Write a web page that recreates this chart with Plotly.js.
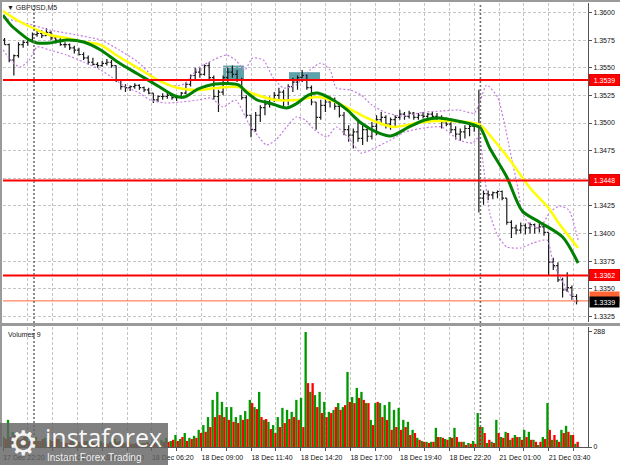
<!DOCTYPE html>
<html>
<head>
<meta charset="utf-8">
<script src="https://cdn.plot.ly/plotly-3.0.1.min.js"></script>
<style>
html,body{margin:0;padding:0;background:#ffffff;overflow:hidden;}
#chart{width:620px;height:465px;}
</style>
</head>
<body>
<div id="chart"></div>
<script>
// ================= DATA =================
const chartTitle = '\u25BC GBPUSD,M5';
const volumeTitle = 'Volumes 9';
const timeLabels = ['17 Dec 22:20','18 Dec 01:00','18 Dec 03:40','18 Dec 06:20','18 Dec 09:00','18 Dec 11:40',
  '18 Dec 14:20','18 Dec 17:00','18 Dec 19:40','18 Dec 22:20','21 Dec 01:00','21 Dec 03:40'];

// price bars, one per 15 minutes (3 x M5), starting 17 Dec 22:20
const open = [1.3575,1.3571,1.3557,1.3561,1.3571,1.3573,1.3575,1.3580,1.3581,1.3579,
1.3582,1.3577,1.3575,1.3571,1.3571,1.3568,1.3566,1.3562,1.3559,1.3555,
1.3553,1.3552,1.3554,1.3555,1.3552,1.3539,1.3533,1.3532,1.3533,1.3534,
1.3532,1.3530,1.3527,1.3521,1.3524,1.3524,1.3525,1.3523,1.3524,1.3527,
1.3535,1.3543,1.3546,1.3544,1.3552,1.3541,1.3524,1.3528,1.3541,1.3546,
1.3544,1.3539,1.3523,1.3507,1.3494,1.3507,1.3514,1.3517,1.3522,1.3525,
1.3528,1.3521,1.3533,1.3537,1.3541,1.3543,1.3532,1.3519,1.3505,1.3516,
1.3519,1.3521,1.3515,1.3507,1.3494,1.3489,1.3492,1.3486,1.3494,1.3488,
1.3497,1.3503,1.3505,1.3499,1.3503,1.3505,1.3508,1.3506,1.3509,1.3505,
1.3507,1.3506,1.3508,1.3506,1.3505,1.3501,1.3499,1.3494,1.3490,1.3492,
1.3495,1.3497,1.3498,1.3432,1.3436,1.3435,1.3437,1.3438,1.3432,1.3410,
1.3405,1.3403,1.3407,1.3405,1.3408,1.3405,1.3406,1.3401,1.3374,1.3371,
1.3358,1.3349,1.3351,1.3343];
const high = [1.3577,1.3572,1.3562,1.3573,1.3575,1.3577,1.3582,1.3585,1.3584,1.3586,
1.3583,1.3579,1.3577,1.3573,1.3572,1.3570,1.3568,1.3564,1.3561,1.3559,
1.3555,1.3556,1.3558,1.3557,1.3552,1.3539,1.3535,1.3534,1.3536,1.3535,
1.3533,1.3532,1.3527,1.3525,1.3527,1.3528,1.3526,1.3525,1.3528,1.3537,
1.3544,1.3550,1.3550,1.3553,1.3555,1.3543,1.3530,1.3543,1.3550,1.3552,
1.3548,1.3541,1.3525,1.3507,1.3510,1.3516,1.3521,1.3524,1.3528,1.3532,
1.3530,1.3535,1.3541,1.3543,1.3548,1.3544,1.3534,1.3519,1.3521,1.3523,
1.3524,1.3523,1.3519,1.3510,1.3498,1.3495,1.3503,1.3498,1.3495,1.3501,
1.3507,1.3510,1.3507,1.3505,1.3507,1.3512,1.3510,1.3511,1.3510,1.3509,
1.3510,1.3509,1.3510,1.3509,1.3507,1.3505,1.3501,1.3497,1.3495,1.3498,
1.3499,1.3501,1.3530,1.3439,1.3439,1.3438,1.3439,1.3439,1.3432,1.3412,
1.3408,1.3410,1.3409,1.3410,1.3409,1.3409,1.3407,1.3401,1.3378,1.3374,
1.3360,1.3365,1.3353,1.3345];
const low = [1.3571,1.3555,1.3543,1.3559,1.3568,1.3570,1.3573,1.3578,1.3577,1.3579,
1.3575,1.3572,1.3570,1.3568,1.3566,1.3563,1.3561,1.3557,1.3553,1.3552,
1.3550,1.3551,1.3552,1.3550,1.3537,1.3530,1.3528,1.3529,1.3531,1.3530,
1.3528,1.3526,1.3518,1.3519,1.3521,1.3522,1.3521,1.3520,1.3522,1.3526,
1.3533,1.3539,1.3541,1.3543,1.3539,1.3521,1.3510,1.3525,1.3537,1.3541,
1.3537,1.3521,1.3505,1.3487,1.3492,1.3501,1.3507,1.3514,1.3519,1.3521,
1.3514,1.3516,1.3528,1.3530,1.3537,1.3530,1.3516,1.3494,1.3503,1.3510,
1.3514,1.3512,1.3505,1.3489,1.3483,1.3477,1.3483,1.3480,1.3483,1.3485,
1.3489,1.3498,1.3495,1.3494,1.3497,1.3503,1.3503,1.3504,1.3503,1.3503,
1.3504,1.3503,1.3504,1.3502,1.3495,1.3497,1.3491,1.3485,1.3484,1.3486,
1.3488,1.3492,1.3419,1.3426,1.3430,1.3431,1.3432,1.3430,1.3408,1.3396,
1.3399,1.3400,1.3399,1.3400,1.3400,1.3401,1.3398,1.3362,1.3367,1.3356,
1.3342,1.3347,1.3340,1.3336];
const close = [1.3571,1.3557,1.3561,1.3571,1.3573,1.3575,1.3580,1.3581,1.3579,1.3582,
1.3577,1.3575,1.3571,1.3571,1.3568,1.3566,1.3562,1.3559,1.3555,1.3553,
1.3552,1.3554,1.3555,1.3552,1.3539,1.3533,1.3532,1.3533,1.3534,1.3532,
1.3530,1.3527,1.3521,1.3524,1.3524,1.3525,1.3523,1.3524,1.3527,1.3535,
1.3543,1.3546,1.3544,1.3552,1.3541,1.3524,1.3528,1.3541,1.3546,1.3544,
1.3539,1.3523,1.3507,1.3494,1.3507,1.3514,1.3517,1.3522,1.3525,1.3528,
1.3521,1.3533,1.3537,1.3541,1.3543,1.3532,1.3519,1.3505,1.3516,1.3519,
1.3521,1.3515,1.3507,1.3494,1.3489,1.3492,1.3486,1.3494,1.3488,1.3497,
1.3503,1.3505,1.3499,1.3503,1.3505,1.3508,1.3506,1.3509,1.3505,1.3507,
1.3506,1.3508,1.3506,1.3505,1.3501,1.3499,1.3494,1.3490,1.3492,1.3495,
1.3497,1.3498,1.3432,1.3436,1.3435,1.3437,1.3438,1.3432,1.3410,1.3405,
1.3403,1.3407,1.3405,1.3408,1.3405,1.3406,1.3401,1.3374,1.3371,1.3358,
1.3349,1.3351,1.3343,1.3339];

// tick volumes per 15-minute slot: largest rising-volume bar and largest falling-volume bar
const volUp = [25,68,38,23,20,30,18,25,15,23, 18,13,20,15,10,18,13,10,15,13,
8,15,10,13,20,15,10,13,8,15, 10,13,13,10,18,23,15,30,20,35,
23,28,43,55,75,118,138,113,100,100, 75,80,90,118,100,138,68,63,55,75,
98,93,88,118,123,288,138,130,138,113, 88,93,110,100,188,125,148,138,110,68,
110,110,105,113,93,98,68,63,43,23, 15,13,13,48,25,20,25,48,13,13,
10,15,85,50,10,13,68,25,38,18, 30,25,43,38,18,5,25,110,18,18,
43,53,30,8];
const volDown = [20,25,30,18,25,15,20,15,20,13, 15,20,13,10,15,10,13,15,8,10,
13,10,8,15,13,10,13,8,10,8, 10,8,10,8,13,13,18,15,25,15,
20,23,35,38,50,75,80,75,68,63, 60,68,70,110,95,75,70,45,35,50,
60,70,75,68,50,160,160,100,85,75, 85,100,93,105,113,110,123,118,110,55,
113,75,68,43,50,43,50,30,35,18, 13,10,13,25,23,18,23,25,13,5,
8,8,50,35,18,10,35,23,35,23, 25,18,25,18,13,13,20,43,30,13,
35,38,30,13];

// moving averages and bands, sampled at M5 bar numbers (0 = 17 Dec 22:20)
const slowMaBar = [0,9,19,30,41,52,63,74,87,100,113,126,137,152,159,168,176,189,203,213,220,231,241,252,267,279,288,299,308,315,327,340,352,358,371];
const slowMa = [1.36013,1.35932,1.35860,1.35796,1.35769,1.35733,1.35706,1.35606,1.35498,1.35389,1.35317,1.35298,1.35317,1.35326,1.35280,1.35235,1.35208,1.35208,1.35235,1.35199,1.35154,1.35072,1.35009,1.34964,1.35000,1.35018,1.35018,1.35009,1.34982,1.34873,1.34665,1.34412,1.34231,1.34104,1.33869];
const fastMaBar = [0,5,11,17,22,30,41,52,63,74,87,100,111,117,126,137,152,157,164,172,183,189,197,203,213,222,231,241,250,262,272,281,290,304,308,314,325,335,346,361,371];
const fastMa = [1.35977,1.35887,1.35814,1.35751,1.35724,1.35724,1.35751,1.35733,1.35661,1.35552,1.35443,1.35335,1.35244,1.35235,1.35308,1.35353,1.35344,1.35280,1.35208,1.35181,1.35136,1.35172,1.35253,1.35271,1.35208,1.35118,1.35000,1.34918,1.34882,1.34964,1.35027,1.35045,1.35027,1.34982,1.34955,1.34774,1.34511,1.34203,1.34104,1.33968,1.33733];
const bandUpperBar = [0,11,19,30,48,63,75,87,98,108,117,126,133,144,150,156,161,168,174,181,189,198,205,211,215,224,231,238,246,257,272,283,294,304,308,312,319,323,327,332,335,340,346,353,359,365,371];
const bandUpper = [1.35950,1.35914,1.35887,1.35842,1.35796,1.35751,1.35661,1.35552,1.35407,1.35335,1.35353,1.35498,1.35552,1.35615,1.35570,1.35480,1.35588,1.35570,1.35416,1.35317,1.35344,1.35480,1.35543,1.35480,1.35317,1.35299,1.35253,1.35163,1.35099,1.35063,1.35099,1.35108,1.35118,1.35090,1.35208,1.35344,1.35235,1.35027,1.34755,1.34421,1.34185,1.34077,1.34050,1.34194,1.34249,1.34213,1.33941];
const bandLowerBar = [0,6,11,17,22,30,41,52,63,70,79,87,95,105,115,126,134,142,150,159,163,170,176,183,189,195,201,209,215,224,231,241,250,259,272,283,294,303,307,310,314,319,325,334,342,351,355,364,370];
const bandLower = [1.35661,1.35552,1.35507,1.35570,1.35688,1.35661,1.35615,1.35552,1.35480,1.35416,1.35326,1.35280,1.35208,1.35181,1.35190,1.35208,1.35226,1.35145,1.35208,1.34982,1.34909,1.34801,1.34846,1.34964,1.35054,1.35027,1.34937,1.34873,1.34964,1.34846,1.34728,1.34783,1.34846,1.34918,1.34955,1.34964,1.34846,1.34819,1.34873,1.34602,1.34185,1.33986,1.33878,1.33869,1.33914,1.33941,1.33733,1.33489,1.33353];

const levelPrices = [1.3539, 1.3448, 1.3362];
const bidPrice = 1.3339;
const askPrice = 1.3341;
const daySeparatorBars = [20, 308];
const zoneStartBar = [142, 184.5];
const zoneEndBar = [155.5, 204.5];
const zoneLow = [1.3539, 1.3539];
const zoneHigh = [1.3552, 1.3546];
const priceTicks = [1.3325,1.3350,1.3375,1.3400,1.3425,1.3450,1.3475,1.3500,1.3525,1.3550,1.3575,1.3600];
const volumeTicks = [0, 288];
const logoText = 'instaforex';
const logoSub = 'Instant Forex Trading';

// ================= RENDER =================
const W = 620, H = 465, ML = 3, MR = 32, MT = 3, MB = 18;
const PW = W - ML - MR, PH = H - MT - MB;
const pxX = px => (px - ML) / PW;
const pxY = py => (H - MB - py) / PH;
const FONT = 'Liberation Sans, Arial, sans-serif';

const slotBar = open.map((_, k) => 3 * k + 1);
const gridBars = [];
const gridText = [];
for (let i = 0; i < 24; i++) { gridBars.push(16 * i); gridText.push(i % 2 === 0 ? timeLabels[i / 2] : ''); }

const bandLine = { color: '#c47ee0', width: 1.2, dash: '2px,2px', shape: 'spline', smoothing: 0.6 };
const traces = [
  { type: 'scatter', mode: 'lines', x: bandUpperBar, y: bandUpper, xaxis: 'x', yaxis: 'y', line: bandLine, hoverinfo: 'skip' },
  { type: 'scatter', mode: 'lines', x: bandLowerBar, y: bandLower, xaxis: 'x', yaxis: 'y', line: bandLine, hoverinfo: 'skip' },
  { type: 'ohlc', x: slotBar, open: open, high: high, low: low, close: close, xaxis: 'x', yaxis: 'y',
    tickwidth: 0.4,
    increasing: { line: { color: '#1a1a1a', width: 1.2 } },
    decreasing: { line: { color: '#1a1a1a', width: 1.2 } }, hoverinfo: 'skip' },
  { type: 'scatter', mode: 'lines', x: slowMaBar, y: slowMa, xaxis: 'x', yaxis: 'y',
    line: { color: '#ffff00', width: 2.5, shape: 'spline', smoothing: 0.8 }, hoverinfo: 'skip' },
  { type: 'scatter', mode: 'lines', x: fastMaBar, y: fastMa, xaxis: 'x', yaxis: 'y',
    line: { color: '#008000', width: 3, shape: 'spline', smoothing: 0.8 }, hoverinfo: 'skip' },
  { type: 'bar', x: slotBar, y: volUp, xaxis: 'x', yaxis: 'y2', width: 1.5, offset: -1.5,
    marker: { color: '#009a00', line: { width: 0 } }, hoverinfo: 'skip' },
  { type: 'bar', x: slotBar, y: volDown, xaxis: 'x', yaxis: 'y2', width: 1.5, offset: 0,
    marker: { color: '#ff0000', line: { width: 0 } }, hoverinfo: 'skip' }
];

const shapes = [];
for (let i = 0; i < zoneStartBar.length; i++) {
  shapes.push({ type: 'rect', xref: 'x', yref: 'y', x0: zoneStartBar[i], x1: zoneEndBar[i], y0: zoneLow[i], y1: zoneHigh[i],
    fillcolor: 'rgba(52,140,148,0.8)', line: { width: 0 }, layer: 'below' });
}
levelPrices.forEach(p => shapes.push({ type: 'line', xref: 'paper', yref: 'y', x0: 0, x1: 1, y0: p, y1: p,
  line: { color: '#ff0000', width: 2 } }));
shapes.push({ type: 'line', xref: 'paper', yref: 'y', x0: 0, x1: 1, y0: bidPrice, y1: bidPrice,
  line: { color: '#ff6633', width: 1 } });
daySeparatorBars.forEach(b => shapes.push({ type: 'line', xref: 'x', yref: 'paper', x0: b, x1: b, y0: 0, y1: 1,
  line: { color: '#707070', width: 1.6, dash: '2px,2px' } }));
shapes.push({ type: 'line', xref: 'paper', yref: 'paper', x0: pxX(0), x1: pxX(620), y0: pxY(324.5), y1: pxY(324.5),
  line: { color: '#9a9a9a', width: 3 } });
shapes.push({ type: 'line', xref: 'paper', yref: 'paper', x0: pxX(0), x1: pxX(620), y0: pxY(1), y1: pxY(1),
  line: { color: '#9a9a9a', width: 2 } });
shapes.push({ type: 'line', xref: 'paper', yref: 'paper', x0: pxX(1), x1: pxX(1), y0: pxY(0), y1: pxY(447),
  line: { color: '#9a9a9a', width: 2 } });
shapes.push({ type: 'rect', xref: 'paper', yref: 'paper', x0: pxX(0), x1: pxX(168), y0: pxY(423), y1: pxY(466),
  fillcolor: 'rgba(100,100,100,0.82)', line: { width: 0 }, layer: 'above' });

const annotations = [];
annotations.push({ xref: 'paper', yref: 'paper', x: pxX(5), y: pxY(8), xanchor: 'left', yanchor: 'middle',
  text: chartTitle, showarrow: false, font: { family: FONT, size: 7, color: '#222' } });
annotations.push({ xref: 'paper', yref: 'paper', x: pxX(6), y: pxY(334), xanchor: 'left', yanchor: 'middle',
  text: volumeTitle, showarrow: false, font: { family: FONT, size: 7, color: '#222' } });
levelPrices.forEach(p => annotations.push({ xref: 'paper', yref: 'y', x: 1, xshift: 1, y: p, xanchor: 'left', yanchor: 'middle',
  text: p.toFixed(4), showarrow: false, bgcolor: '#ff0000', bordercolor: '#e00000', borderpad: 1, width: 27, height: 8,
  font: { family: FONT, size: 7, color: '#ffffff' } }));
annotations.push({ xref: 'paper', yref: 'y', x: 1, xshift: 1, y: askPrice, yshift: 2, xanchor: 'left', yanchor: 'middle',
  text: askPrice.toFixed(4), showarrow: false, bgcolor: '#ff6633', borderpad: 1, width: 27, height: 8,
  font: { family: FONT, size: 7, color: '#ff6633' } });
annotations.push({ xref: 'paper', yref: 'y', x: 1, xshift: 1, y: bidPrice, yshift: -1, xanchor: 'left', yanchor: 'middle',
  text: bidPrice.toFixed(4), showarrow: false, bgcolor: '#000000', borderpad: 1, width: 27, height: 8,
  font: { family: FONT, size: 7, color: '#ffffff' } });
annotations.push({ xref: 'paper', yref: 'paper', x: pxX(23), y: pxY(443), xanchor: 'center', yanchor: 'middle',
  text: '\u2699', showarrow: false, font: { family: 'DejaVu Sans', size: 34, color: 'rgba(255,255,255,0.92)' } });
annotations.push({ xref: 'paper', yref: 'paper', x: pxX(43), y: pxY(437), xanchor: 'left', yanchor: 'middle',
  text: logoText, showarrow: false, font: { family: 'Open Sans, DejaVu Sans, sans-serif', size: 25, color: 'rgba(255,255,255,0.95)' } });
annotations.push({ xref: 'paper', yref: 'paper', x: pxX(45), y: pxY(457), xanchor: 'left', yanchor: 'middle',
  text: logoSub, showarrow: false, font: { family: FONT, size: 10, color: 'rgba(255,255,255,0.9)' } });

const layout = {
  width: W, height: H,
  margin: { l: ML, r: MR, t: MT, b: MB, pad: 0 },
  paper_bgcolor: '#ffffff', plot_bgcolor: '#ffffff',
  showlegend: false, hovermode: false, barmode: 'overlay', dragmode: false,
  xaxis: {
    domain: [0, 1], range: [0, 377.4], anchor: 'y2',
    rangeslider: { visible: false },
    tickmode: 'array', tickvals: gridBars, ticktext: gridText,
    showgrid: true, gridcolor: '#c4c4c4', griddash: '3px,2px', gridwidth: 1,
    zeroline: false, showline: true, linecolor: '#555', linewidth: 1,
    ticks: 'outside', ticklen: 3, tickcolor: '#555', tickangle: 0,
    ticklabelshift: 21, ticklabelstandoff: 1,
    tickfont: { family: FONT, size: 7, color: '#111' }
  },
  yaxis: {
    domain: [pxY(322), 1], range: [1.33199, 1.36086], anchor: 'x', side: 'right',
    tickmode: 'array', tickvals: priceTicks, tickformat: '.4f',
    showgrid: true, gridcolor: '#c4c4c4', griddash: '3px,2px', gridwidth: 1,
    zeroline: false, showline: true, linecolor: '#555', linewidth: 1,
    ticks: 'outside', ticklen: 3, tickcolor: '#555',
    tickfont: { family: FONT, size: 7, color: '#111' }
  },
  yaxis2: {
    domain: [0, pxY(327)], range: [0, 300.5], anchor: 'x', side: 'right',
    tickmode: 'array', tickvals: volumeTicks,
    showgrid: false, zeroline: false, showline: true, linecolor: '#555', linewidth: 1,
    ticks: 'outside', ticklen: 3, tickcolor: '#555',
    tickfont: { family: FONT, size: 7, color: '#111' }
  },
  shapes: shapes,
  annotations: annotations
};

Plotly.newPlot('chart', traces, layout, { staticPlot: true, displayModeBar: false });
</script>
</body>
</html>
